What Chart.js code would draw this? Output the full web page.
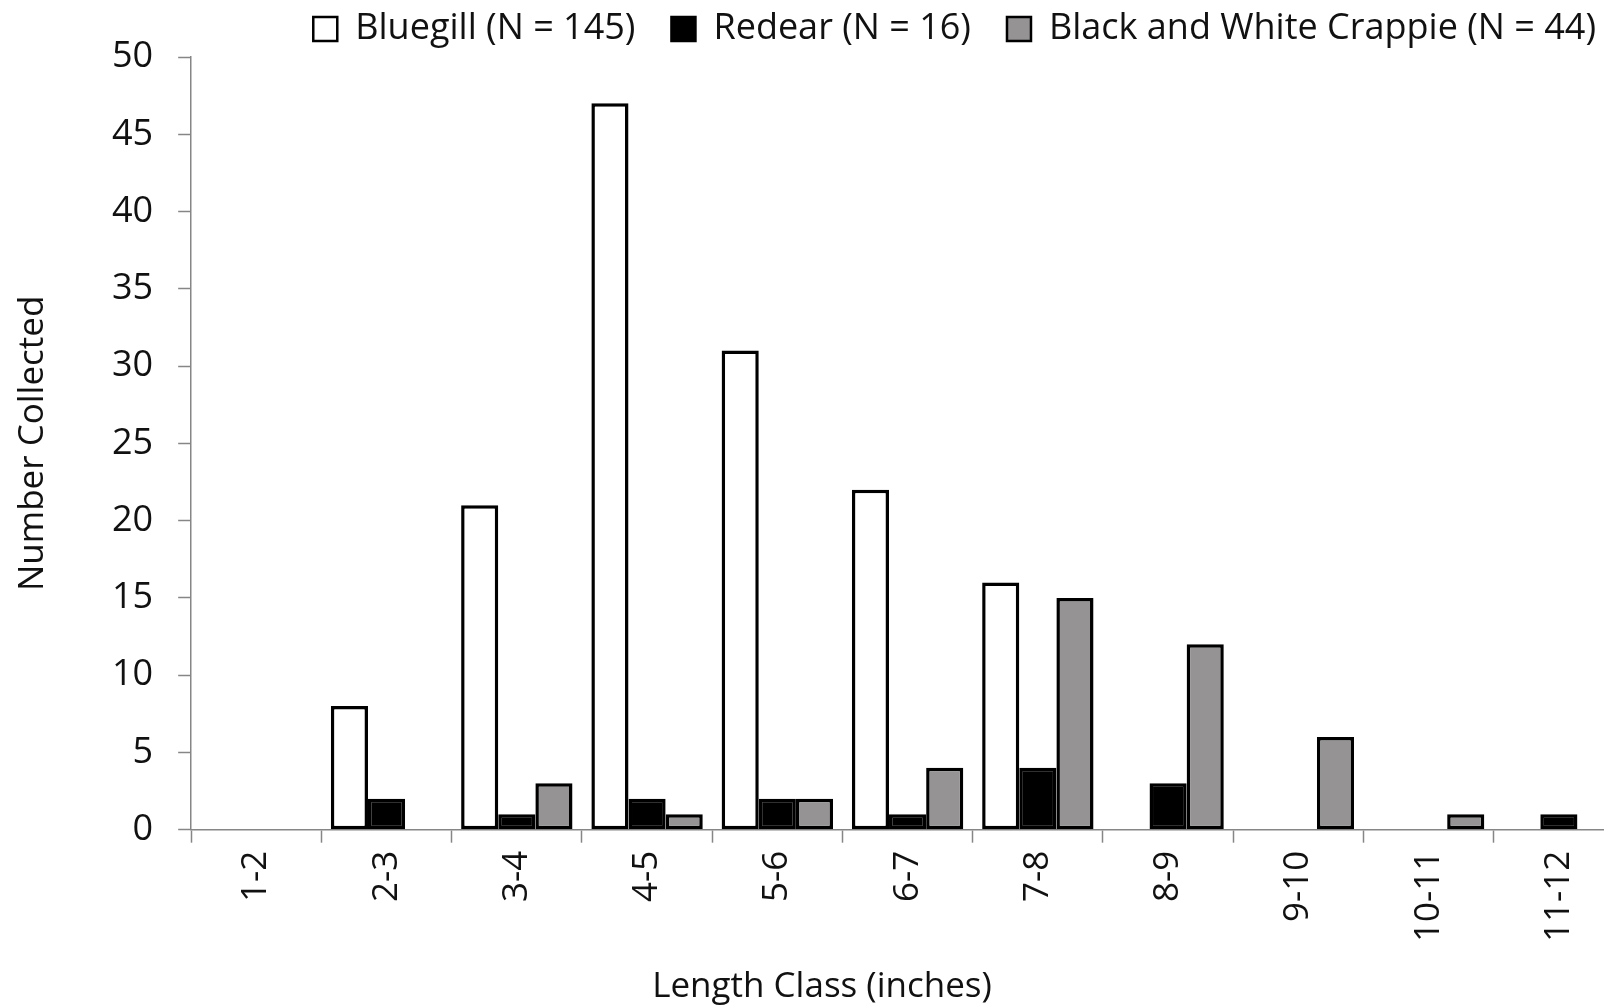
<!DOCTYPE html>
<html>
<head>
<meta charset="utf-8">
<script src="https://cdn.jsdelivr.net/npm/chart.js@4.4.1/dist/chart.umd.min.js"></script>
<style>
  html, body { margin: 0; padding: 0; background: #fff; overflow: hidden; }
  /* a little wider than the window: the original plot is cut off on the right */
  #wrap { width: 1624px; height: 1008px; }
</style>
</head>
<body>
<div id="wrap"><canvas id="chart"></canvas></div>
<script>
// length classes (inches)
const lengthClasses = ['1-2', '2-3', '3-4', '4-5', '5-6', '6-7', '7-8', '8-9', '9-10', '10-11', '11-12'];

// fish counts per length class
const bluegill = [0, 8, 21, 47, 31, 22, 16, 0, 0, 0, 0];
const redear = [0, 2, 1, 2, 2, 1, 4, 3, 0, 0, 1];
const crappie = [0, 0, 3, 1, 2, 4, 15, 12, 6, 1, 0];

const seriesNames = ['Bluegill (N = 145)', 'Redear (N = 16)', 'Black and White Crappie (N = 44)'];
const yTicks = [0, 5, 10, 15, 20, 25, 30, 35, 40, 45, 50];

const font = 'Open Sans';
const axisGrey = '#868686';

window.addEventListener('load', () => {
  const barStyle = {
    borderColor: '#000',
    borderWidth: 3.5,
    borderSkipped: false,
    barPercentage: 1,
    categoryPercentage: 0.855
  };

  new Chart(document.getElementById('chart'), {
    type: 'bar',
    data: {
      labels: lengthClasses,
      datasets: [
        { label: seriesNames[0], data: bluegill, backgroundColor: '#ffffff', ...barStyle },
        { label: seriesNames[1], data: redear, backgroundColor: '#000000', ...barStyle },
        { label: seriesNames[2], data: crappie, backgroundColor: '#959393', ...barStyle }
      ]
    },
    options: {
      responsive: true,
      maintainAspectRatio: false,
      animation: false,
      layout: { padding: { left: 12, right: -8, top: -25, bottom: 0 } },
      plugins: {
        tooltip: { enabled: false },
        title: {
          display: true,
          position: 'bottom',
          text: 'Length Class (inches)',
          font: { family: font, size: 35, weight: 'normal' },
          color: '#111',
          padding: { top: 16, bottom: 0 }
        },
        legend: {
          position: 'top',
          align: 'end',
          labels: {
            font: { family: font, size: 36 },
            color: '#111',
            boxWidth: 24,
            boxHeight: 24,
            padding: 36,
            generateLabels: (chart) => chart.data.datasets.map((ds, i) => ({
              text: ds.label,
              fillStyle: ds.backgroundColor,
              strokeStyle: '#000',
              lineWidth: 2.5,
              fontColor: '#111',
              datasetIndex: i
            }))
          }
        }
      },
      scales: {
        x: {
          offset: true,
          border: { color: axisGrey, width: 1.5 },
          grid: {
            offset: true,
            drawOnChartArea: false,
            drawTicks: true,
            tickLength: 13,
            tickWidth: 1.5,
            color: axisGrey
          },
          ticks: {
            font: { family: font, size: 35 },
            color: '#111',
            minRotation: 90,
            maxRotation: 90,
            padding: 8
          }
        },
        y: {
          min: 0,
          max: 50,
          afterBuildTicks: (scale) => { scale.ticks = yTicks.map(v => ({ value: v })); },
          border: { color: axisGrey, width: 1.5 },
          grid: {
            drawOnChartArea: false,
            drawTicks: true,
            tickLength: 13,
            tickWidth: 1.5,
            color: axisGrey
          },
          ticks: {
            font: { family: font, size: 36 },
            color: '#111',
            padding: 25
          },
          title: {
            display: true,
            text: 'Number Collected',
            font: { family: font, size: 35 },
            color: '#111',
            padding: { top: 0, bottom: 33 }
          }
        }
      }
    }
  });
});
</script>
</body>
</html>
